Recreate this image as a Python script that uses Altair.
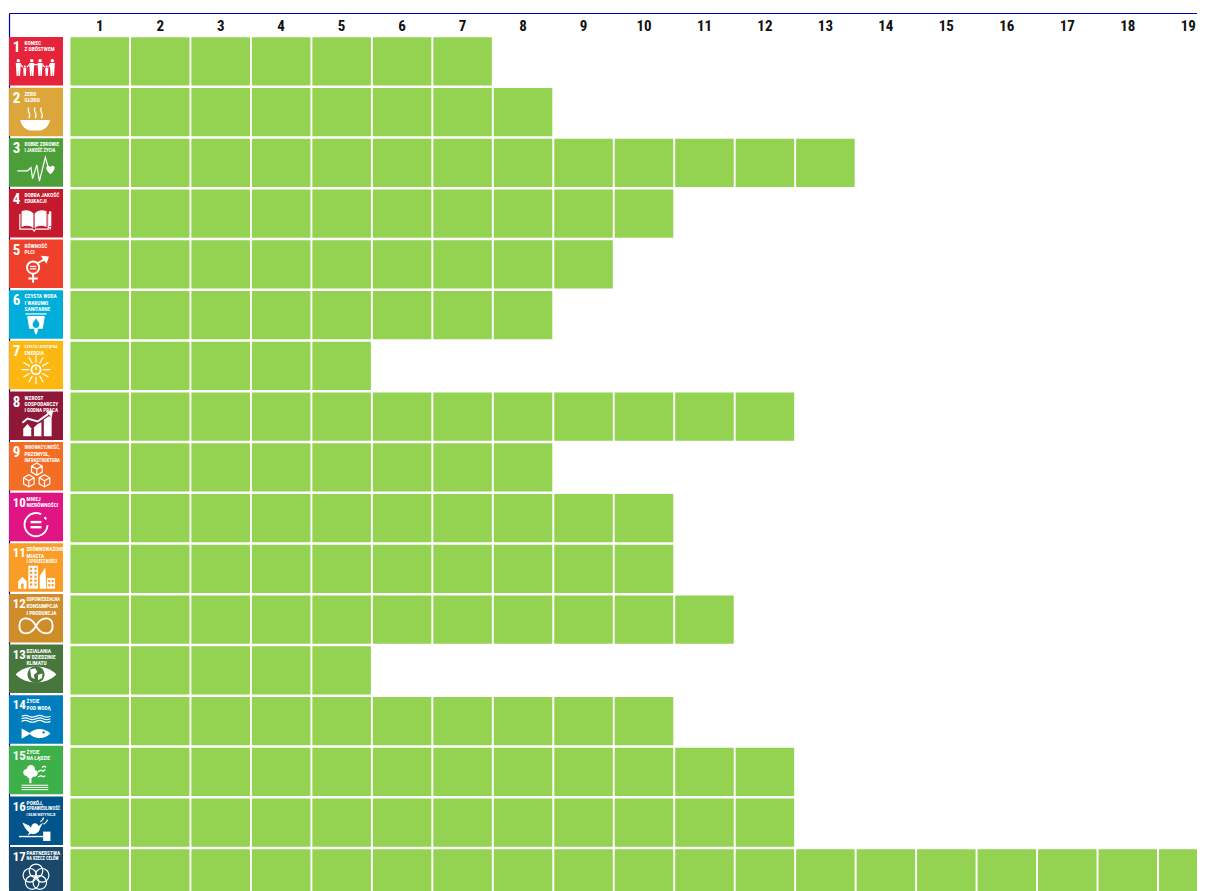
import math
import altair as alt
import pandas as pd

# ---- chart values -------------------------------------------------------
goal_ids = list(range(1, 18))
goal_counts = [7, 8, 13, 10, 9, 8, 5, 12, 8, 10, 10, 11, 5, 10, 12, 12, 19]
column_labels = list(range(1, 20))
goal_colors = ["#E5243B", "#DDA63A", "#4C9F38", "#C5192D", "#EF402B", "#00AED9", "#FDB713",
               "#8F1838", "#F36D25", "#E11484", "#F99D26", "#CF8D2A", "#48773E", "#007DBC",
               "#3EB049", "#02558B", "#19486A"]
goal_titles = [
    ["KONIEC", "Z UBÓSTWEM"], ["ZERO", "GŁODU"], ["DOBRE ZDROWIE", "I JAKOŚĆ ŻYCIA"],
    ["DOBRA JAKOŚĆ", "EDUKACJI"], ["RÓWNOŚĆ", "PŁCI"], ["CZYSTA WODA", "I WARUNKI", "SANITARNE"],
    ["CZYSTA I DOSTĘPNA", "ENERGIA"], ["WZROST", "GOSPODARCZY", "I GODNA PRACA"],
    ["INNOWACYJNOŚĆ,", "PRZEMYSŁ,", "INFRASTRUKTURA"], ["MNIEJ", "NIERÓWNOŚCI"],
    ["ZRÓWNOWAŻONE", "MIASTA", "I SPOŁECZNOŚCI"], ["ODPOWIEDZIALNA", "KONSUMPCJA", "I PRODUKCJA"],
    ["DZIAŁANIA", "W DZIEDZINIE", "KLIMATU"], ["ŻYCIE", "POD WODĄ"], ["ŻYCIE", "NA LĄDZIE"],
    ["POKÓJ,", "SPRAWIEDLIWOŚĆ", "I SILNE INSTYTUCJE"], ["PARTNERSTWA", "NA RZECZ CELÓW"],
]
CELL_GREEN = "#94D251"
LINE_BLUE = "#0000AA"
NARROW = "'Roboto Condensed','Liberation Sans Narrow','DejaVu Sans Condensed',Roboto,sans-serif"

# ---- icon pictograms: unit-square SVG paths -----------------------------
def C(cx, cy, r):
    return f"M{cx-r:.3f} {cy:.3f}A{r} {r} 0 1 0 {cx+r:.3f} {cy:.3f}A{r} {r} 0 1 0 {cx-r:.3f} {cy:.3f}Z"

def P(*pts):
    return "M" + "L".join(f"{x:.3f} {y:.3f}" for x, y in pts) + "Z"

def R(x0, y0, x1, y1):
    return P((x0, y0), (x1, y0), (x1, y1), (x0, y1))

def person(x, s):
    base = .47
    top = base - 1.0 * s
    return [
        ("f", C(x, top + .1 * s, .1 * s)),
        ("f", P((x-.15*s, top+.23*s), (x+.15*s, top+.23*s), (x+.13*s, top+.55*s), (x+.1*s, base),
                (x+.015*s, base), (x, top+.62*s), (x-.015*s, base), (x-.1*s, base), (x-.13*s, top+.55*s))),
    ]

def cube(cx, cy, s):
    a = .87 * s
    return [("t", P((cx, cy-s), (cx+a, cy-s/2), (cx+a, cy+s/2), (cx, cy+s), (cx-a, cy+s/2), (cx-a, cy-s/2))
             + f"M{cx-a:.3f} {cy-s/2:.3f}L{cx:.3f} {cy:.3f}L{cx+a:.3f} {cy-s/2:.3f}M{cx:.3f} {cy:.3f}V{cy+s:.3f}")]

def rays(cx, cy, r0, r1, n):
    out = ""
    for i in range(n):
        a = 2 * math.pi * i / n
        out += f"M{cx+r0*math.cos(a):.3f} {cy+r0*math.sin(a):.3f}L{cx+r1*math.cos(a):.3f} {cy+r1*math.sin(a):.3f}"
    return out

def windows(xs, ys, w, h):
    return [("c", R(x, y, x + w, y + h)) for x in xs for y in ys]

WAVE = "M-.85 {y}C-.7 {a} -.55 {a} -.42 {y}C-.28 {b} -.14 {b} 0 {y}C.14 {a} .28 {a} .42 {y}C.55 {b} .7 {b} .85 {y}"
def wave(y):
    return ("t", WAVE.format(y=y, a=round(y - .07, 3), b=round(y + .07, 3)))

glyphs = {
    1: sum([person(x, s) for x, s in [(-1.04, 1), (-.66, .62), (-.25, 1), (.24, 1), (.63, .62), (.96, 1)]], []) + [
        ("t", "M-.9 -.2L-.78 -.05M-.54 -.05L-.39 -.2M-.11 -.2L.1 -.2M.38 -.2L.52 -.05M.75 -.05L.82 -.2")],
    2: [("f", "M-.92 .08H.82C.78 .45 .45 .7 .2 .7H-.3C-.55 .7 -.88 .45 -.92 .08Z"),
        ("t", "M-.42 -.65C-.6 -.4 -.22 -.3 -.42 -.02M-.05 -.65C-.23 -.4 .15 -.3 -.05 -.02M.32 -.65C.14 -.4 .52 -.3 .32 -.02")],
    3: [("t", "M-1.1 .1H-.5L-.3 -.1L-.2 .55L.05 -.25L.2 .7L.55 -.7L.75 0"),
        ("f", "M.85 .3C.6 .1 .52 -.15 .7 -.2C.8 -.22 .85 -.12 .85 -.1C.85 -.12 .9 -.22 1 -.2C1.18 -.15 1.1 .1 .85 .3Z")],
    4: [("f", "M-.85 -.5C-.6 -.62 -.35 -.58 -.15 -.38V.5C-.35 .32 -.6 .32 -.85 .42Z"),
        ("f", "M.62 -.5C.37 -.62 .12 -.58 -.08 -.38V.5C.12 .32 .37 .32 .62 .42Z"),
        ("t", "M-.95 -.35V.55H-.2L-.11 .66L-.02 .55H.72V-.35"),
        ("f", R(.76, -.5, .9, .38)), ("f", P((.76, .42), (.9, .42), (.83, .62)))],
    5: [("k", C(-.17, -.17, .36)), ("k", "M-.17 .2V.72M-.45 .47H.11M.07 -.42L.55 -.68"),
        ("f", P((.27, -.87), (.76, -.82), (.62, -.4))),
        ("f", R(-.36, -.27, .02, -.2)), ("f", R(-.36, -.13, .02, -.06))],
    6: [("f", P((-.52, -.3), (.52, -.3), (.4, .45), (.1, .45), (.1, .62), (0, .82), (-.1, .62), (-.1, .45), (-.4, .45))),
        ("t", "M-.62 -.42H.62"),
        ("c", "M0 -.17C.1 0 .2 .08 .2 .2A.2 .2 0 0 1 -.2 .2C-.2 .08 -.1 0 0 -.17Z")],
    7: [("k", C(0, -.12, .27)), ("t", rays(0, -.12, .42, .85, 12)), ("f", R(-.04, -.3, .04, -.1))],
    8: [("f", P((-.75, .82), (-.75, .38), (-.5, .1), (-.28, .35), (-.28, .82))),
        ("f", P((-.12, .82), (-.12, .3), (.1, .1), (.32, .0), (.32, .82))),
        ("f", P((.46, .82), (.46, -.15), (.72, -.35), (.92, -.35), (.92, .82))),
        ("k", "M-.8 .02L-.5 -.22L.1 -.05L.72 -.5"),
        ("f", P((.58, -.64), (1.0, -.68), (.93, -.28)))],
    9: cube(.05, -.23, .36) + cube(-.42, .46, .36) + cube(.5, .46, .36),
    10: [("k", "M.3 -.55A.68 .68 0 1 0 .68 .1"), ("k", "M.5 -.38L.6 -.25"),
         ("f", R(-.32, -.16, .32, -.02)), ("f", R(-.32, .14, .32, .28))],
    11: [("f", P((-1.05, .85), (-1.05, .42), (-.8, .15), (-.55, .42), (-.55, .85))), ("c", R(-.87, .55, -.73, .85)),
         ("f", R(-.45, -.5, .12, .85))] + windows([-.36, -.1], [-.38, -.15, .08, .31, .54], .14, .13) + [
         ("f", P((.22, .85), (.22, .1), (.55, -.4), (.6, .85))),
         ("f", R(.64, .22, 1.12, .85))] + windows([.72, .92], [.34, .58], .12, .13),
    12: [("k", "M0 .06C-.3 -.5 -.98 -.55 -.98 .06C-.98 .67 -.3 .62 0 .06C.3 -.5 .98 -.55 .98 .06C.98 .67 .3 .62 0 .06Z")],
    13: [("f", "M-1.2 -.06C-.6 -.68 .6 -.68 1.2 -.06C.6 .56 -.6 .56 -1.2 -.06Z"), ("c", C(0, -.06, .5)),
         ("f", P((-.35, -.35), (-.05, -.42), (.08, -.2), (-.12, -.05), (-.08, .2), (-.28, .1))),
         ("f", P((.12, -.05), (.38, -.12), (.35, .15), (.12, .28)))],
    14: [wave(-.58), wave(-.43), wave(-.28),
         ("f", "M-.4 .44C-.1 .08 .5 .08 .85 .44C.5 .8 -.1 .8 -.4 .44Z"),
         ("f", P((-.85, .14), (-.3, .44), (-.85, .74))), ("c", C(.45, .37, .07))],
    15: [("f", C(-.55, -.25, .2)), ("f", C(-.3, -.45, .24)), ("f", C(-.1, -.2, .2)), ("f", C(-.35, -.1, .2)),
         ("f", R(-.39, -.05, -.27, .38)),
         ("f", R(-.85, .47, .72, .53)), ("f", R(-.85, .6, .72, .66)), ("f", R(-.85, .73, .72, .79)),
         ("t", "M.1 -.3L.3 -.38L.42 -.32L.55 -.42M.35 -.55L.5 -.62L.6 -.56M.12 .02L.3 -.06L.42 0L.55 -.06")],
    16: [("f", "M-.8 -.28C-.5 -.13 -.4 -.13 -.3 .02C-.2 -.38 .1 -.23 .15 -.08L.42 -.28L.25 .02C.2 .32 -.05 .42 -.3 .38L-.5 .46L-.4 .3C-.6 .15 -.7 -.03 -.8 -.28Z"),
         ("f", R(-1.0, .5, .42, .58)), ("f", R(.42, .25, .85, .8)),
         ("t", "M.25 -.33C.35 -.38 .42 -.45 .45 -.58M.45 -.18C.55 -.25 .65 -.32 .68 -.46")],
    17: [("t", C(round(.38 * math.cos(math.radians(-90 + 72 * k)), 3),
                 round(-.04 + .38 * math.sin(math.radians(-90 + 72 * k)), 3), .4)) for k in range(5)],
}
STROKE = {"f": 0, "c": 0, "t": 1.2, "k": 1.9}

# ---- tables -------------------------------------------------------------
cells = pd.DataFrame([
    {"x": k + .016, "x2": k + 1 - .016, "y": g + .024, "y2": g + 1 - .024}
    for g, n in zip(goal_ids, goal_counts) for k in range(1, n + 1)])
icons = pd.DataFrame({"goal": goal_ids, "y": [g + .0 for g in goal_ids], "y2": [g + .96 for g in goal_ids],
                      "x": [0.0] * 17, "x2": [.8925] * 17, "color": goal_colors,
                      "num_y": [g + .2 for g in goal_ids],
                      "num_size": [15 if g < 10 else 13 for g in goal_ids]})
header = pd.DataFrame({"x": [c + .5 for c in column_labels], "y": [.783] * 19, "label": [str(c) for c in column_labels]})
title_rows = pd.DataFrame([
    {"x": .256 if g < 10 else .29, "y": g + .122 + .124 * i, "line": line,
     "size": round(min(5.4, (37 if g < 10 else 35) / (len(line) * .56)), 2)}
    for g, lines in zip(goal_ids, goal_titles) for i, line in enumerate(lines)])
glyph_rows = pd.DataFrame([
    {"x": .446, "y": g + .612, "path": path,
     "fill": (goal_colors[g - 1] if kind == "c" else ("white" if kind == "f" else "transparent")),
     "stroke": ("white" if STROKE[kind] else "transparent"), "sw": STROKE[kind]}
    for g in goal_ids for kind, path in glyphs[g]]).reset_index(drop=True)
glyph_rows["order"] = glyph_rows.index

# ---- scales (domains fitted to the plot's full extent) ------------------
xs = alt.Scale(domain=[-.017, 19.645], nice=False, zero=False)
ys_cells = alt.Scale(domain=[(8 - 36) / 50.75 + 1, (891 - 36) / 50.75 + 1], reverse=True, nice=False, zero=False)
ys_icons = alt.Scale(domain=[(8 - 37) / 50.625 + 1, (891 - 37) / 50.625 + 1], reverse=True, nice=False, zero=False)
X = lambda f: alt.X(f, type="quantitative", scale=xs, axis=None)
Yc = lambda f: alt.Y(f, type="quantitative", scale=ys_cells, axis=None)
Yi = lambda f: alt.Y(f, type="quantitative", scale=ys_icons, axis=None)

cell_layer = alt.Chart(cells).mark_rect(color=CELL_GREEN, clip=True).encode(
    x=X("x"), x2="x2", y=Yc("y"), y2="y2")

top_line = alt.Chart(pd.DataFrame({"x": [.008], "x2": [19.645], "y": [.5358]})).mark_rule(
    color=LINE_BLUE, strokeWidth=1.2, clip=True).encode(x=X("x"), x2="x2", y=Yi("y"))
left_line = alt.Chart(pd.DataFrame({"x": [.008], "y": [.5358], "y2": [17.8]})).mark_rule(
    color=LINE_BLUE, strokeWidth=1.2, clip=True).encode(x=X("x"), y=Yi("y"), y2="y2")
icon_rects = alt.Chart(icons).mark_rect(clip=True).encode(
    x=X("x"), x2="x2", y=Yi("y"), y2="y2", color=alt.Color("color:N", scale=None))
icon_nums = alt.Chart(icons).mark_text(align="left", baseline="middle", font=NARROW, fontWeight="bold",
                                       color="white", clip=True).encode(
    x=alt.datum(.06, type="quantitative", scale=xs, axis=None), y=Yi("num_y"), text=alt.Text("goal:N"),
    size=alt.Size("num_size:Q", scale=None))
icon_text = alt.Chart(title_rows).mark_text(align="left", baseline="middle", font=NARROW, fontWeight="bold",
                                            color="white", clip=True).encode(
    x=X("x"), y=Yi("y"), text=alt.Text("line:N"), size=alt.Size("size:Q", scale=None))
icon_glyphs = alt.Chart(glyph_rows).mark_point(filled=True, opacity=1, size=1156, clip=True).encode(
    x=X("x"), y=Yi("y"),
    shape=alt.Shape("path:N", scale=None),
    fill=alt.Fill("fill:N", scale=None),
    stroke=alt.Stroke("stroke:N", scale=None),
    strokeWidth=alt.StrokeWidth("sw:Q", scale=None),
    order=alt.Order("order:Q"))
head_text = alt.Chart(header).mark_text(font=NARROW, fontWeight="bold", fontSize=15, color="#111111",
                                        baseline="middle").encode(
    x=X("x"), y=Yi("y"), text=alt.Text("label:N"))

icon_layer = alt.layer(top_line, left_line, icon_rects, icon_glyphs, icon_nums, icon_text, head_text)
chart = alt.layer(cell_layer, icon_layer).resolve_scale(y="independent").properties(
    width=1189, height=883, padding=0, autosize=alt.AutoSizeParams(type="none"),
    background="white").configure_view(stroke=None)

chart.save("out.html", embed_options={"renderer": "svg", "actions": False})
